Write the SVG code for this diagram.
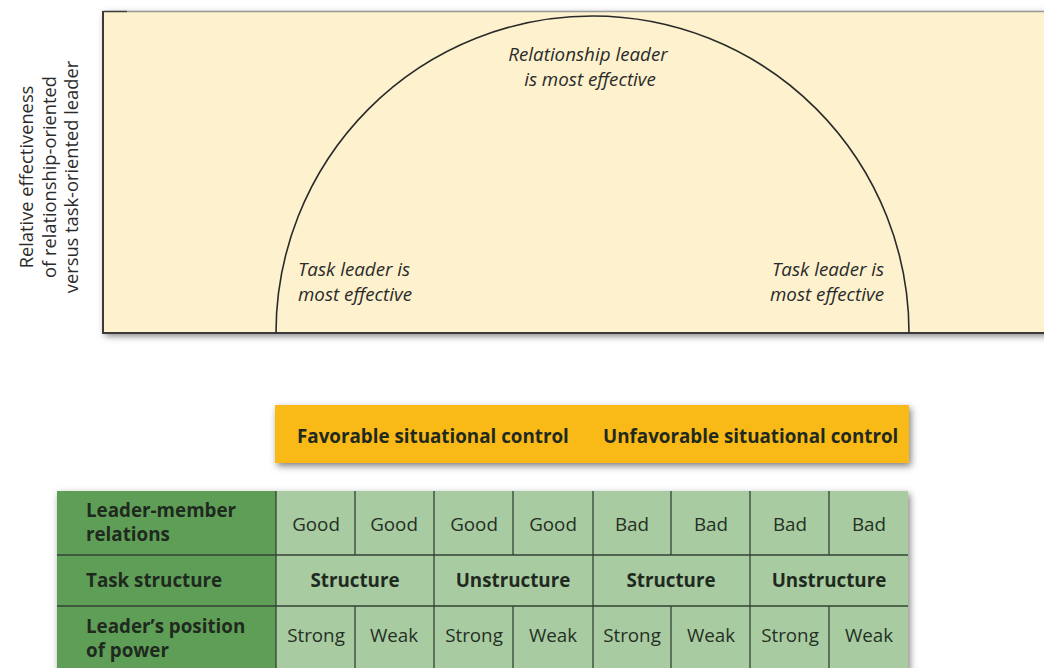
<svg xmlns="http://www.w3.org/2000/svg" width="1044" height="668" viewBox="0 0 1044 668">
<defs>
<filter id="sh" x="-10%" y="-20%" width="120%" height="140%">
<feDropShadow dx="2" dy="3" stdDeviation="3.5" flood-color="#000" flood-opacity="0.5"/>
</filter>
<style>
.it{font-family:"Open Sans","Liberation Sans",sans-serif;font-style:italic;font-size:18.8px;fill:#2b2b2b}
.ax{font-family:"Open Sans","Liberation Sans",sans-serif;font-size:18.3px;fill:#2b2b2b}
.b{font-family:"Open Sans","Liberation Sans",sans-serif;font-weight:bold;font-size:18.8px;fill:#1f2a1f}
.c{font-family:"Open Sans","Liberation Sans",sans-serif;font-size:18.8px;fill:#243024;text-anchor:middle}
.cb{font-family:"Open Sans","Liberation Sans",sans-serif;font-weight:bold;font-size:18.8px;fill:#1f2a1f;text-anchor:middle}
.grid{stroke:#334233;stroke-width:1.3;fill:none}
</style>
</defs>
<rect width="1044" height="668" fill="#fff"/>

<g id="chart">
<rect x="103" y="11" width="960" height="322" fill="#fdf2cd" filter="url(#sh)"/>
<path d="M103 11 V333 H1044" fill="none" stroke="#3a3a3a" stroke-width="2"/>
<line x1="103" y1="11.5" x2="127" y2="11.5" stroke="#3a3a3a" stroke-width="1.5"/>
<line x1="127" y1="11.5" x2="1044" y2="11.5" stroke="#9a9a9a" stroke-width="1.5"/>
<path d="M276 333 A316.5 317 0 0 1 909 333" fill="none" stroke="#2a2a2a" stroke-width="1.6"/>
<text class="it" x="588" y="61" text-anchor="middle">Relationship leader</text>
<text class="it" x="590" y="86" text-anchor="middle">is most effective</text>
<text class="it" x="298" y="276">Task leader is</text>
<text class="it" x="298" y="301">most effective</text>
<text class="it" x="772" y="276">Task leader is</text>
<text class="it" x="770" y="301">most effective</text>
</g>

<g id="y-axis-label" transform="translate(0,177) rotate(-90)">
<text class="ax" x="0" y="33" text-anchor="middle">Relative effectiveness</text>
<text class="ax" x="0" y="56" text-anchor="middle">of relationship-oriented</text>
<text class="ax" x="0" y="78" text-anchor="middle">versus task-oriented leader</text>
</g>

<g id="situational-control">
<rect x="275" y="405" width="634" height="58" fill="#f9b914" filter="url(#sh)"/>
<text class="b" x="297" y="443" fill="#2a1e08">Favorable situational control</text>
<text class="b" x="603" y="443" fill="#2a1e08">Unfavorable situational control</text>
</g>

<g id="table">
<rect x="57" y="491" width="851" height="190" fill="#a9cba1" filter="url(#sh)"/>
<rect x="57" y="491" width="219" height="190" fill="#5f9e57"/>
<g class="grid">
<line x1="57" y1="555" x2="908" y2="555"/>
<line x1="57" y1="606" x2="908" y2="606"/>
<line x1="276" y1="491" x2="276" y2="668"/>
<line x1="355" y1="491" x2="355" y2="555"/>
<line x1="355" y1="606" x2="355" y2="668"/>
<line x1="434" y1="491" x2="434" y2="668"/>
<line x1="513" y1="491" x2="513" y2="555"/>
<line x1="513" y1="606" x2="513" y2="668"/>
<line x1="593" y1="491" x2="593" y2="668"/>
<line x1="671" y1="491" x2="671" y2="555"/>
<line x1="671" y1="606" x2="671" y2="668"/>
<line x1="750" y1="491" x2="750" y2="668"/>
<line x1="829" y1="491" x2="829" y2="555"/>
<line x1="829" y1="606" x2="829" y2="668"/>
</g>
<text class="b" x="86" y="517">Leader-member</text>
<text class="b" x="86" y="541">relations</text>
<text class="b" x="86" y="587">Task structure</text>
<text class="b" x="86" y="633">Leader’s position</text>
<text class="b" x="86" y="657">of power</text>

<text class="c" x="316" y="531">Good</text>
<text class="c" x="394" y="531">Good</text>
<text class="c" x="474" y="531">Good</text>
<text class="c" x="553" y="531">Good</text>
<text class="c" x="632" y="531">Bad</text>
<text class="c" x="711" y="531">Bad</text>
<text class="c" x="790" y="531">Bad</text>
<text class="c" x="869" y="531">Bad</text>

<text class="cb" x="355" y="587">Structure</text>
<text class="cb" x="513" y="587">Unstructure</text>
<text class="cb" x="671" y="587">Structure</text>
<text class="cb" x="829" y="587">Unstructure</text>

<text class="c" x="316" y="642">Strong</text>
<text class="c" x="394" y="642">Weak</text>
<text class="c" x="474" y="642">Strong</text>
<text class="c" x="553" y="642">Weak</text>
<text class="c" x="632" y="642">Strong</text>
<text class="c" x="711" y="642">Weak</text>
<text class="c" x="790" y="642">Strong</text>
<text class="c" x="869" y="642">Weak</text>
</g>
</svg>
